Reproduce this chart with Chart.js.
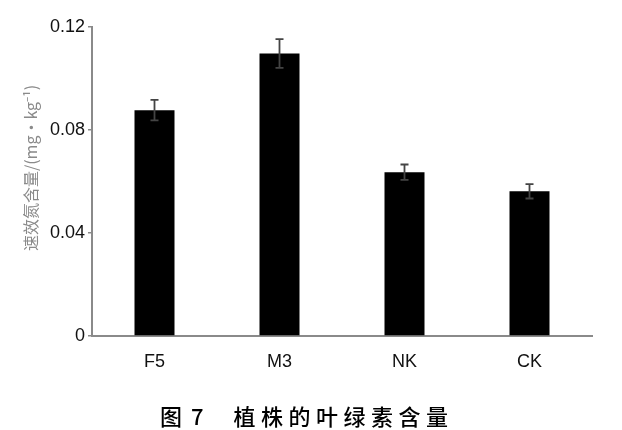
<!DOCTYPE html>
<html>
<head>
<meta charset="utf-8">
<script src="https://cdn.jsdelivr.net/npm/chart.js@4"></script>
<style>
  html, body { margin: 0; padding: 0; background: #fff; }
  #wrap { position: relative; width: 622px; height: 430px; }
  #cap { position: absolute; left: 160px; top: 401px; font-family: 'Noto Sans CJK SC'; font-size: 22px; font-weight: 500; line-height: 28px; white-space: pre; color: #000; }
  #cap .n { margin-left: 9px; }
  #cap .t { margin-left: 30px; letter-spacing: 5.5px; }
</style>
</head>
<body>
<div id="wrap">
  <canvas id="c" width="622" height="430"></canvas>
  <div id="cap">图<span class="n">7</span><span class="t">植株的叶绿素含量</span></div>
</div>
<script>
const categories = ['F5', 'M3', 'NK', 'CK'];
const values = [0.0877, 0.1097, 0.0636, 0.0562];
const errors = [0.0040, 0.0056, 0.0030, 0.0028];
const yTicks = [0, 0.04, 0.08, 0.12];
const yTickLabels = ['0', '0.04', '0.08', '0.12'];
const yTitle = '速效氮含量/(mg·kg⁻¹)';

const errorBarPlugin = {
  id: 'errorBars',
  afterDatasetsDraw(chart) {
    const ctx = chart.ctx;
    const meta = chart.getDatasetMeta(0);
    const y = chart.scales.y;
    ctx.save();
    ctx.strokeStyle = '#444';
    ctx.lineWidth = 1.8;
    meta.data.forEach((bar, i) => {
      const x = bar.x;
      const top = y.getPixelForValue(values[i] + errors[i]);
      const bot = y.getPixelForValue(values[i] - errors[i]);
      ctx.beginPath();
      ctx.moveTo(x, top); ctx.lineTo(x, bot);
      ctx.moveTo(x - 4, top); ctx.lineTo(x + 4, top);
      ctx.moveTo(x - 4, bot); ctx.lineTo(x + 4, bot);
      ctx.stroke();
    });
    ctx.restore();
  }
};

const yTitlePlugin = {
  id: 'yTitle',
  afterDraw(chart) {
    const ctx = chart.ctx;
    ctx.save();
    ctx.translate(31, 168);
    ctx.rotate(-Math.PI / 2);
    ctx.textAlign = 'center';
    ctx.textBaseline = 'middle';
    ctx.fillStyle = '#8a8a8a';
    ctx.font = "16px 'Noto Sans CJK SC'";
    ctx.fillText(yTitle, 0, 0);
    ctx.restore();
  }
};

new Chart(document.getElementById('c'), {
  type: 'bar',
  data: {
    labels: categories,
    datasets: [{
      data: values,
      backgroundColor: '#000',
      borderWidth: 0,
      categoryPercentage: 1,
      barPercentage: 0.32
    }]
  },
  options: {
    responsive: false,
    animation: false,
    devicePixelRatio: 1,
    layout: { padding: { left: 0, right: 30, top: 27, bottom: 54 } },
    plugins: { legend: { display: false }, tooltip: { enabled: false } },
    scales: {
      x: {
        afterFit(s) { s.height = 40; },
        grid: { display: false },
        border: { display: true, color: '#8a8a8a', width: 2 },
        ticks: { color: '#111', padding: 7, font: { family: "'Liberation Sans Narrow', 'Liberation Sans'", size: 18 } }
      },
      y: {
        min: 0, max: 0.12,
        afterFit(s) { s.width = 92; },
        afterBuildTicks(s) { s.ticks = yTicks.map(v => ({ value: v })); },
        grid: { display: true, drawOnChartArea: false, drawTicks: true, tickLength: 4, color: '#8a8a8a', lineWidth: 1.5 },
        border: { display: true, color: '#8a8a8a', width: 2 },
        ticks: {
          color: '#111', padding: 3,
          font: { family: "'Liberation Sans Narrow', 'Liberation Sans'", size: 18 },
          callback(v) { const i = yTicks.indexOf(v); return i >= 0 ? yTickLabels[i] : ''; }
        }
      }
    }
  },
  plugins: [errorBarPlugin, yTitlePlugin]
});
</script>
</body>
</html>
